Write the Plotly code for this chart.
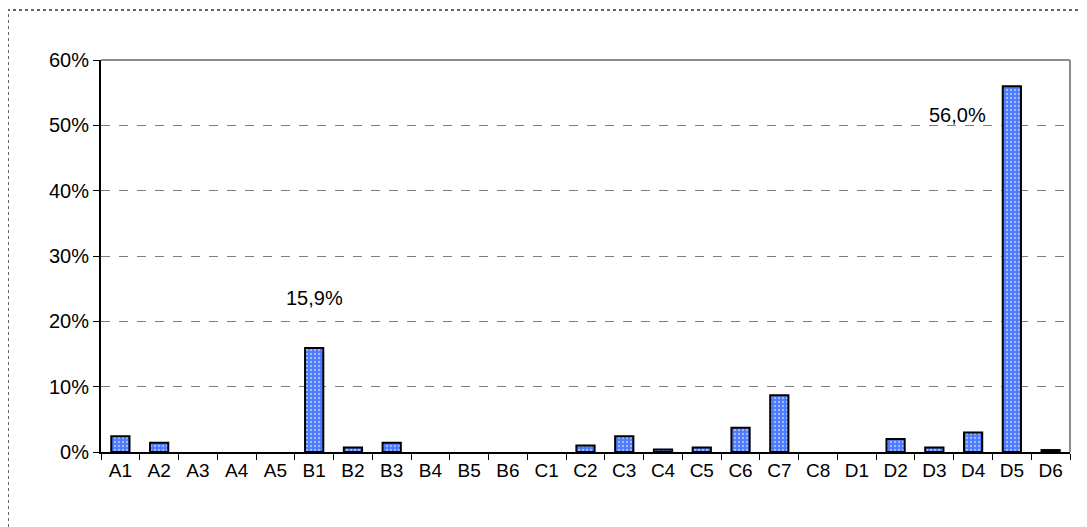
import plotly.graph_objects as go

categories = ["A1","A2","A3","A4","A5","B1","B2","B3","B4","B5","B6","C1","C2","C3","C4",
              "C5","C6","C7","C8","D1","D2","D3","D4","D5","D6"]
values = [0.024, 0.014, 0.0, 0.0, 0.0, 0.159, 0.007, 0.014, 0.0, 0.0, 0.0, 0.0, 0.010, 0.024, 0.004,
          0.007, 0.037, 0.087, 0.0, 0.0, 0.020, 0.007, 0.030, 0.560, 0.003]
labelled = {"B1": (0, 50), "D5": (-54, -29)}
y_ticks = [0, 0.1, 0.2, 0.3, 0.4, 0.5, 0.6]

font = "Liberation Sans, Arial, sans-serif"
plot_vals = [v if v > 0 else None for v in values]

fig = go.Figure(go.Bar(
    x=categories, y=plot_vals, width=0.47,
    marker=dict(color="#4d7bff", line=dict(color="black", width=2),
                pattern=dict(shape=".", fgcolor="white", bgcolor="#4d7bff", size=4, solidity=0.25)),
    hoverinfo="x+y",
))

anns = []
for c, (dx, dy) in labelled.items():
    v = values[categories.index(c)]
    anns.append(dict(x=c, y=v, xref="x", yref="y", text=f"{v*100:.1f}%".replace(".", ","),
                     showarrow=False, xshift=dx, yshift=dy,
                     font=dict(family=font, size=20, color="black")))

L, T, W, H = 93, 52, 969, 392
shapes = [
    dict(type="line", xref="paper", yref="paper", x0=0, x1=1, y0=1, y1=1, line=dict(color="#8c8c8c", width=2)),
    dict(type="line", xref="paper", yref="paper", x0=1, x1=1, y0=0, y1=1, line=dict(color="#8c8c8c", width=2)),
    dict(type="rect", xref="paper", yref="paper", x0=-93/W, x1=1013/W, y0=-90/H, y1=442/H,
         line=dict(color="#666666", width=2, dash="dot"), layer="below"),
]

fig.update_layout(
    width=1087, height=527,
    margin=dict(l=L, r=1087 - L - W, t=T, b=527 - T - H),
    plot_bgcolor="white", paper_bgcolor="white",
    showlegend=False, bargap=0.53,
    font=dict(family=font, size=20, color="black"),
    annotations=anns, shapes=shapes,
    xaxis=dict(type="category", showline=True, linecolor="black", linewidth=2,
               ticks="outside", ticklen=6, tickcolor="black", tickwidth=1, tickson="boundaries",
               showgrid=False, tickfont=dict(size=19)),
    yaxis=dict(range=[0, 0.6], tickvals=y_ticks, tickformat=".0%", showline=True,
               linecolor="black", linewidth=2, ticks="outside", ticklen=6, tickcolor="black",
               showgrid=True, gridcolor="#7f7f7f", griddash="dash", gridwidth=1,
               zeroline=False, tickfont=dict(size=20)),
)

fig.write_html("out.html")
